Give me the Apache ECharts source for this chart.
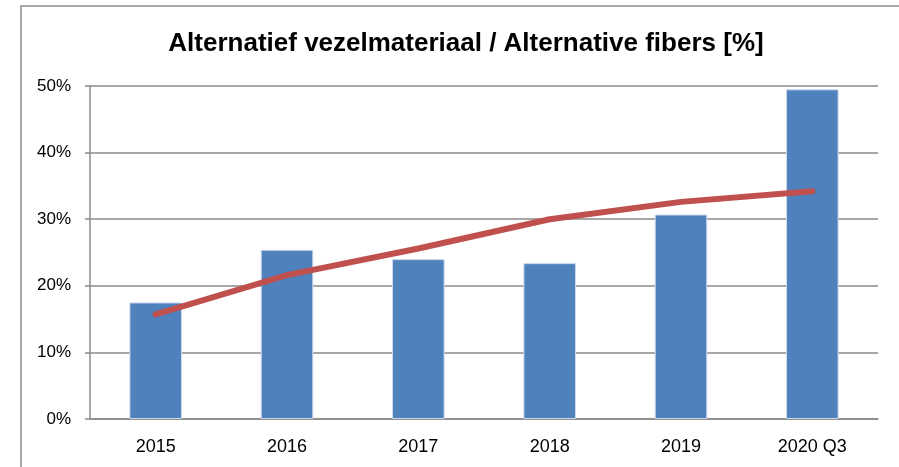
<!DOCTYPE html>
<html><head><meta charset="utf-8">
<script src="https://cdn.jsdelivr.net/npm/echarts@6/dist/echarts.min.js"></script>
<style>html,body{margin:0;padding:0;background:#fff}#c{width:899px;height:467px}</style>
</head><body><div id="c"></div>
<script>
const title = 'Alternatief vezelmateriaal / Alternative fibers [%]';
const categories = ['2015', '2016', '2017', '2018', '2019', '2020 Q3'];
const barValues = [17.5, 25.4, 24.0, 23.4, 30.7, 49.5];
const lineValues = [15.7, 21.6, 25.6, 30.0, 32.6, 34.2];
const yTicks = [0, 10, 20, 30, 40, 50];

const font = '"Liberation Sans", Arial, sans-serif';
const chart = echarts.init(document.getElementById('c'), null, {renderer: 'canvas'});
chart.setOption({
  animation: false,
  backgroundColor: '#fff',
  title: {
    text: title, left: 461, top: 26, textAlign: 'center',
    textStyle: {fontFamily: font, fontWeight: 'bold', fontSize: 26, color: '#000'}
  },
  graphic: [{
    type: 'rect', shape: {x: 21, y: 6, width: 900, height: 480},
    style: {fill: 'none', stroke: '#8a8a8a', lineWidth: 1.5}, silent: true
  }],
  grid: {left: 90, right: 21, top: 86, bottom: 48},
  xAxis: {
    type: 'category', data: categories,
    axisLine: {lineStyle: {color: '#8a8a8a', width: 1.5}},
    axisTick: {show: false},
    axisLabel: {fontFamily: font, fontSize: 18, color: '#000', margin: 19}
  },
  yAxis: {
    type: 'value', min: yTicks[0], max: yTicks[yTicks.length - 1], interval: 10,
    axisLine: {show: true, lineStyle: {color: '#8a8a8a', width: 1.5}},
    axisTick: {show: true, length: 5, lineStyle: {color: '#8a8a8a', width: 1.5}},
    splitLine: {lineStyle: {color: '#8a8a8a', width: 1.5}},
    axisLabel: {fontFamily: font, fontSize: 17, color: '#000', margin: 19,
      formatter: v => v + '%'}
  },
  series: [{
    type: 'bar', data: barValues, barWidth: '40%',
    itemStyle: {color: '#4F81BD', borderColor: '#c9d7ea', borderWidth: 1}
  }, {
    type: 'line', data: lineValues, showSymbol: false, symbol: 'none',
    lineStyle: {color: '#C0504D', width: 6, cap: 'round', join: 'round'}
  }]
});
</script></body></html>
